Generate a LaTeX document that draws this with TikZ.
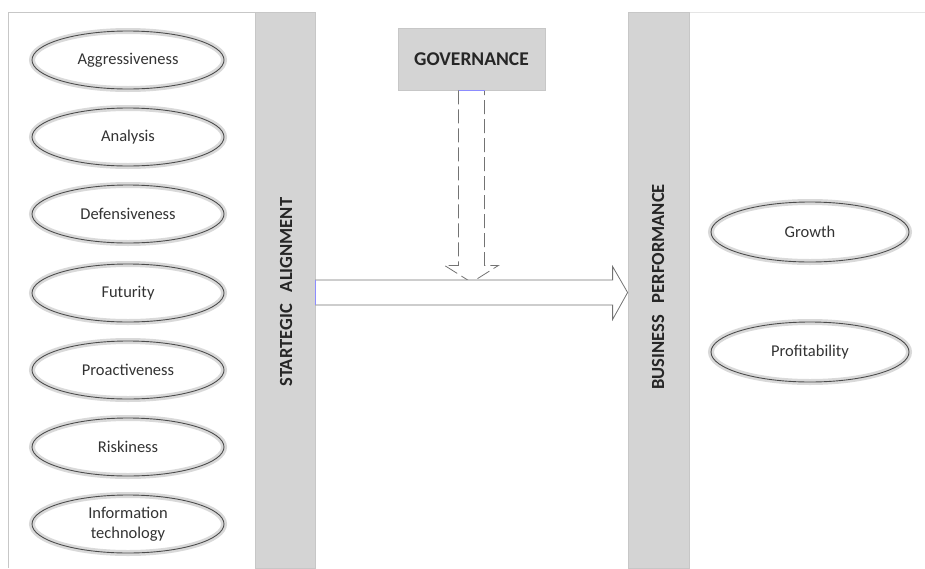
\documentclass[tikz,border=0pt]{standalone}
\usepackage{fontspec}
\setmainfont{Carlito}
\usetikzlibrary{calc,shapes.geometric}

\tikzset{
	trait/.style={ellipse, draw=black!70, line width=0.9pt, minimum width=192pt, minimum height=58pt,
		inner sep=1pt, align=center, font=\fontsize{16.5}{19}\selectfont, text=black!80,
		preaction={draw=black!15, line width=6pt}},
	panel/.style={fill=black!17, draw=black!22, line width=0.8pt},
	barlabel/.style={rotate=90, font=\bfseries\fontsize{18.5}{20}\selectfont, text=black!85},
}

\begin{document}
\begin{tikzpicture}[x=1pt, y=-1pt]
			%%%%% START %%%%%
			\useasboundingbox (0, 0) rectangle (925, 568);
			
			% frame lines
			\draw[black!22, line width=0.8pt] (8, 568) -- (8, 12) -- (255, 12);
			\draw[black!10, line width=0.8pt] (689, 12) -- (925, 12);
			
			% the two bars
			\node[panel, minimum width=60pt, minimum height=556pt, inner sep=0pt] (align) at (285, 290) {};
			\node[panel, minimum width=61pt, minimum height=556pt, inner sep=0pt] (perf) at (658.5, 290) {};
			\node[barlabel] (alignlbl) at (286, 292) {STARTEGIC\hspace{12pt}ALIGNMENT};
			\node[barlabel] (perflbl) at (658, 287) {BUSINESS\hspace{12pt}PERFORMANCE};
			
			% governance
			\node[panel, minimum width=147pt, minimum height=62pt, font=\bfseries\fontsize{19.5}{21}\selectfont, text=black!85] (gov) at (471.5, 59) {GOVERNANCE};
			
			% strategy traits
			\node[trait] (aggr) at (128, 60) {Aggressiveness};
			\node[trait] (anal) at (128, 137) {Analysis};
			\node[trait] (defn) at (128, 214) {Defensiveness};
			\node[trait] (futr) at (128, 293) {Futurity};
			\node[trait] (proa) at (128, 370) {Proactiveness};
			\node[trait] (risk) at (128, 447) {Riskiness};
			\node[trait, font=\fontsize{16.5}{20}\selectfont] (info) at (128, 524) {Information\\technology};
			
			% performance
			\node[trait, minimum width=198pt, minimum height=60pt] (grow) at (810, 232) {Growth};
			\node[trait, minimum width=198pt, minimum height=60pt] (prof) at (810, 352) {Profitability};
			
			% dashed arrow governance -> alignment arrow
			\coordinate (govtip) at ($(gov.south)+(0, 192)$);
			\draw[black!55, dashed, dash pattern=on 14pt off 5pt, line width=0.8pt]
				($(gov.south)+(-13, 0)$) -- ($(govtip)+(-13, -17)$) -- ($(govtip)+(-27, -17)$) -- (govtip)
				-- ($(govtip)+(27, -17)$) -- ($(govtip)+(13, -17)$) -- ($(gov.south)+(13, 0)$);
			\draw[blue!45, line width=1pt] ($(gov.south)+(-13, 0)$) -- ($(gov.south)+(13, 0)$);
			
			% block arrow alignment -> performance
			\coordinate (arrtail) at (align.east |- 0, 292.5);
			\coordinate (arrtip) at (perf.west |- 0, 292.5);
			\draw[black!55, fill=white, line width=0.8pt]
				($(arrtail)+(0, -12.5)$) -- ($(arrtip)+(-15, -12.5)$) -- ($(arrtip)+(-15, -26)$) -- (arrtip)
				-- ($(arrtip)+(-15, 27)$) -- ($(arrtip)+(-15, 12.5)$) -- ($(arrtail)+(0, 12.5)$);
			\draw[blue!45, line width=1pt] ($(arrtail)+(0, -12.5)$) -- ($(arrtail)+(0, 12.5)$);
			
			%%%%% END %%%%%
\end{tikzpicture}
\end{document}
